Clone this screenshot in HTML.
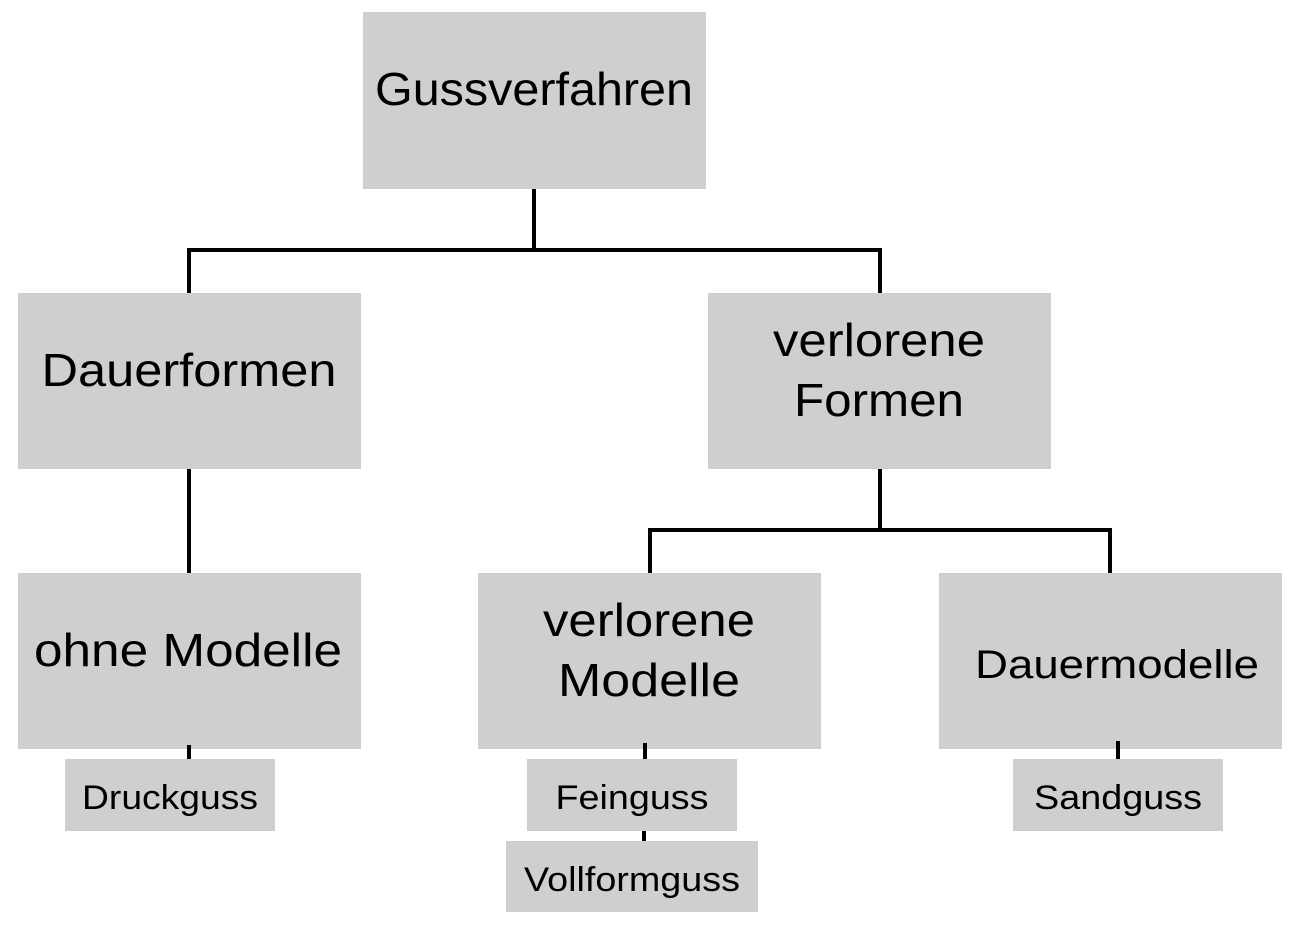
<!DOCTYPE html>
<html><head><meta charset="utf-8"><style>html,body{margin:0;padding:0;background:#fff}svg{display:block}</style></head>
<body>
<svg width="1308" height="926" viewBox="0 0 1308 926" xmlns="http://www.w3.org/2000/svg">
<g fill="#d0cecf">
<rect x="363" y="12" width="343" height="177"/>
<rect x="18" y="293" width="343" height="176"/>
<rect x="708" y="293" width="343" height="176"/>
<rect x="18" y="573" width="343" height="176"/>
<rect x="478" y="573" width="343" height="176"/>
<rect x="939" y="573" width="343" height="176"/>
<rect x="65" y="759" width="210" height="72"/>
<rect x="527" y="759" width="210" height="72"/>
<rect x="506" y="841" width="252" height="71"/>
<rect x="1013" y="759" width="210" height="72"/>
</g>
<g stroke="#000" stroke-width="4" fill="none">
<path d="M534 189V250M189 293V250H880V293"/>
<path d="M189 469V573"/>
<path d="M880 469V530M650 573V530H1110V573"/>
<path d="M189 745V759M645 743V759M644 831V841M1118 741V759"/>
</g>
<g font-family="Liberation Sans, sans-serif" fill="#000" text-anchor="middle">
<text x="534" y="105" font-size="46" textLength="318" lengthAdjust="spacingAndGlyphs">Gussverfahren</text>
<text x="189" y="386" font-size="46" textLength="295" lengthAdjust="spacingAndGlyphs">Dauerformen</text>
<text x="879" y="356" font-size="46" textLength="212" lengthAdjust="spacingAndGlyphs">verlorene</text>
<text x="879" y="416" font-size="46" textLength="170" lengthAdjust="spacingAndGlyphs">Formen</text>
<text x="188" y="666" font-size="46" textLength="308" lengthAdjust="spacingAndGlyphs">ohne Modelle</text>
<text x="649" y="636" font-size="46" textLength="212" lengthAdjust="spacingAndGlyphs">verlorene</text>
<text x="649" y="696" font-size="46" textLength="182" lengthAdjust="spacingAndGlyphs">Modelle</text>
<text x="1117" y="678" font-size="40" textLength="284" lengthAdjust="spacingAndGlyphs">Dauermodelle</text>
<text x="170" y="809" font-size="34" textLength="176" lengthAdjust="spacingAndGlyphs">Druckguss</text>
<text x="632" y="809" font-size="34" textLength="153" lengthAdjust="spacingAndGlyphs">Feinguss</text>
<text x="632" y="891" font-size="34" textLength="216" lengthAdjust="spacingAndGlyphs">Vollformguss</text>
<text x="1118" y="809" font-size="34" textLength="168" lengthAdjust="spacingAndGlyphs">Sandguss</text>
</g>
</svg>
</body></html>
